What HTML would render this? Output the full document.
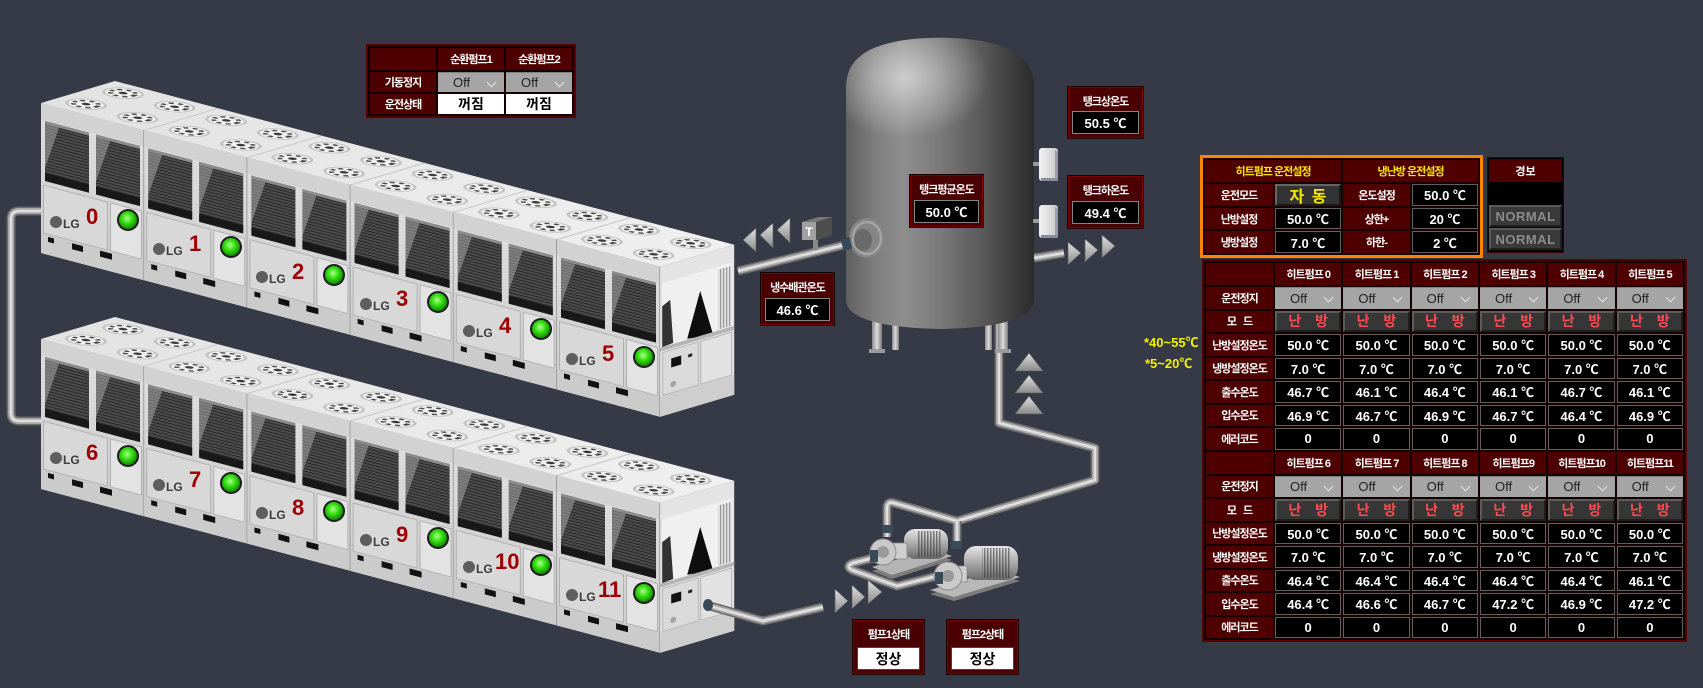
<!DOCTYPE html>
<html><head><meta charset="utf-8"><title>HP</title>
<style>
*{margin:0;padding:0;box-sizing:border-box}
html,body{width:1703px;height:688px;overflow:hidden}
body{background:#363a47;position:relative;font-family:"Liberation Sans","Noto Sans CJK KR",sans-serif}
#s{position:absolute;left:0;top:0}
.bx{position:absolute;background:#4a0000;border:1px solid #7c0000;box-shadow:0 0 0 1px #1a0000}
.bx .t{position:absolute;left:0;right:0;top:1px;height:23px;display:flex;align-items:center;justify-content:center;color:#fff;font-weight:bold;font-size:11px;letter-spacing:-1px;white-space:nowrap}
.bx .v{position:absolute;left:3px;right:3px;bottom:3px;height:23px;display:flex;align-items:center;justify-content:center;background:#000;border:1px solid #858585;color:#fff;font-weight:bold;font-size:13px;white-space:nowrap}
.bx .v.wt{background:#fff;border-color:#444;color:#000;font-size:14px}
.tb{position:absolute;background:#140000;border:2px solid #560000;padding:2px}
.g{display:grid;gap:2px}
.g>div{display:flex;align-items:center;justify-content:center;color:#fff;font-weight:bold;font-size:11px;white-space:nowrap;overflow:hidden}
.h{background:#4e0000;letter-spacing:-1px}
.g>.y{color:#ffea00}
.g>.v{background:#000;border:1px solid #606060;font-size:13px}
.g>.w{background:#fff;color:#000;font-size:14px}
.g>.dd{background:#a5a5a5;color:#222;font-weight:normal;font-size:13px;position:relative;justify-content:flex-start;padding-left:15px;border-top:1px solid #808080}
.dd:after{content:"";position:absolute;right:9px;top:6px;width:6px;height:6px;border-right:1.5px solid #e4e4e4;border-bottom:1.5px solid #e4e4e4;transform:rotate(45deg)}
.g>.md{background:#363636;border:2px solid;border-color:#5c5c5c #1e1e1e #1e1e1e #5c5c5c;color:#ff4a52;font-size:14px;word-spacing:10px}
.g>.ad{background:#333;border:2px solid;border-color:#666 #1a1a1a #1a1a1a #666;color:#f7e600;font-size:16px;word-spacing:3px}
.big{grid-template-columns:67px repeat(6,66.33px);grid-template-rows:22px repeat(7,21.5px)}
.nm{position:absolute;left:1px;right:1px;height:22px;background:#3a3a3a;border:2px solid;border-color:#5a5a5a #202020 #202020 #5a5a5a;color:#8c8c8c;font-weight:bold;font-size:13px;display:flex;align-items:center;justify-content:center;letter-spacing:0.5px}
.note{position:absolute;color:#f2f200;font-weight:bold;font-size:13px;line-height:14px;white-space:nowrap}
</style></head>
<body>
<svg id="s" width="1703" height="688" viewBox="0 0 1703 688" xmlns="http://www.w3.org/2000/svg" font-family="Liberation Sans, sans-serif">
<defs>
<linearGradient id="fg" x1="0" y1="0" x2="0" y2="1"><stop offset="0" stop-color="#dedede"/><stop offset="1" stop-color="#cccccc"/></linearGradient>
<linearGradient id="tg" x1="0" y1="0" x2="1" y2="0"><stop offset="0" stop-color="#e2e2e2"/><stop offset="1" stop-color="#f0f0f0"/></linearGradient>
<pattern id="lv" width="6" height="3" patternUnits="userSpaceOnUse"><rect width="6" height="3" fill="#4d4d4d"/><rect y="2" width="6" height="1" fill="#262626"/></pattern>
<pattern id="vg" width="3" height="4" patternUnits="userSpaceOnUse"><rect width="3" height="4" fill="#e0e0e0"/><rect width="1" height="4" fill="#8a8a8a"/></pattern>
<pattern id="rb" width="3" height="4" patternUnits="userSpaceOnUse"><rect width="1.5" height="4" fill="#333"/></pattern>
<radialGradient id="gl" cx="0.45" cy="0.4" r="0.6"><stop offset="0" stop-color="#aaff88"/><stop offset="0.5" stop-color="#33dd11"/><stop offset="1" stop-color="#128800"/></radialGradient>
<linearGradient id="tk" x1="0" x2="1"><stop offset="0" stop-color="#5f5f5f"/><stop offset="0.15" stop-color="#7d7d7d"/><stop offset="0.3" stop-color="#8e8e8e"/><stop offset="0.5" stop-color="#7a7a7a"/><stop offset="0.75" stop-color="#555"/><stop offset="0.9" stop-color="#3a3a3a"/><stop offset="1" stop-color="#2b2b2b"/></linearGradient>
<radialGradient id="hl" cx="0.5" cy="0.5" r="0.5"><stop offset="0" stop-color="#fff" stop-opacity="0.55"/><stop offset="1" stop-color="#fff" stop-opacity="0"/></radialGradient>
<linearGradient id="lgg" x1="0" x2="1"><stop offset="0" stop-color="#8a8a8a"/><stop offset=".5" stop-color="#dcdcdc"/><stop offset="1" stop-color="#7a7a7a"/></linearGradient>
<linearGradient id="ar" x1="0" y1="0" x2="0" y2="1"><stop offset="0" stop-color="#e0e0e0"/><stop offset="1" stop-color="#8a8a8a"/></linearGradient>
<linearGradient id="mt" x1="0" y1="0" x2="0" y2="1"><stop offset="0" stop-color="#e6e6e6"/><stop offset=".5" stop-color="#a8a8a8"/><stop offset="1" stop-color="#6a6a6a"/></linearGradient>
<linearGradient id="sn" x1="0" x2="1"><stop offset="0" stop-color="#f4f4f4"/><stop offset="1" stop-color="#c8c8c8"/></linearGradient>
<path id="tkp" d="M846,300 L846,88 C846,56 872,45 905,40 C925,37 955,37 975,40 C1008,45 1034,56 1034,88 L1034,300 C1034,318 1000,328 940,329 C880,328 846,318 846,300 Z"/>
<clipPath id="tc"><use href="#tkp"/></clipPath>
<path id="p1" d="M41,211 L19,211 Q11,211 11,219 L11,413 Q11,421 19,421 L41,421"/>
<path id="p2" d="M738,271 L848,244"/>
<path id="p3" d="M1034,258 L1064,253"/>
<path id="p4" d="M999,318 L999,423 L1095,448 L1095,480 L957,521"/>
<path id="p5" d="M957,521 L894,503 Q887,501 887,508 L887,537 M957,521 L957,548"/>
<path id="p6" d="M877,557 L853,563 Q845,566 852,570 L897,586 L941,575"/>
<path id="p7" d="M710,606 L763,621 L823,607"/>
<g id="fr">
<rect width="103.3" height="150" fill="url(#fg)"/>
<rect width="103.3" height="16" fill="#d2d2d2"/>
<rect x="4" y="17" width="44" height="59" fill="url(#lv)"/>
<rect x="4" y="17" width="44" height="3" fill="#8c8c8c"/>
<polygon points="4,20 18,20 4,64" fill="#b0b0b0" opacity=".5"/>
<rect x="4" y="69" width="44" height="8" fill="#181818"/>
<rect x="55" y="17" width="44" height="59" fill="url(#lv)"/>
<rect x="55" y="17" width="44" height="3" fill="#8c8c8c"/>
<polygon points="55,20 69,20 55,64" fill="#b0b0b0" opacity=".5"/>
<rect x="55" y="69" width="44" height="8" fill="#181818"/>
<rect x="2.5" y="81.5" width="64" height="48" fill="#d8d8d8" stroke="#b0b0b0"/>
<rect x="69.5" y="81.5" width="31" height="48" fill="#e3e3e3" stroke="#b0b0b0"/>
<rect y="130" width="103.3" height="20" fill="#cbcbcb"/>
<rect x="7" y="132" width="6" height="5" fill="#111"/>
<rect x="31" y="132" width="11" height="6" fill="#111"/>
<rect x="59" y="132" width="12" height="6" fill="#111"/>
<rect x="102.2" width="1.1" height="150" fill="#a0a0a0"/>
</g>
<g id="sd">
<rect width="74" height="150" fill="#e4e4e4"/>
<rect x="2" y="17" width="70" height="64" fill="#f0f0f0"/>
<polygon points="2,40 10,36 13,80 2,81" fill="#333"/>
<polygon points="40,36 27,80 53,84" fill="#0e0e0e"/>
<rect x="58" y="20" width="13" height="60" fill="url(#vg)"/>
<rect y="81" width="74" height="4" fill="#b5b5b5"/>
<rect x="2.5" y="86.5" width="36" height="43" fill="#dadada" stroke="#b3b3b3"/>
<rect x="40.5" y="86.5" width="31" height="43" fill="#e2e2e2" stroke="#b3b3b3"/>
<rect x="11" y="95" width="10" height="9" fill="#111"/>
<rect x="28" y="96" width="4" height="3" fill="#222"/>
<circle cx="13" cy="121" r="3" fill="#a5a5a5"/>
<rect y="130" width="74" height="20" fill="#cecece"/>
</g>
<g id="fn"><circle r="16.5" fill="#c4c4c4"/><circle r="14" fill="#f0f0f0"/><circle r="10" fill="none" stroke="#4a4a4a" stroke-width="4" stroke-dasharray="4 3.5"/><circle r="3.5" fill="#3a3a3a"/></g>
<g id="fans"><use href="#fn" transform="translate(25,26)"/><use href="#fn" transform="translate(75,26)"/><use href="#fn" transform="translate(25,76)"/><use href="#fn" transform="translate(75,76)"/></g>
</defs>

<g fill="none" stroke-linejoin="round">
<use href="#p1" stroke="#6a6a6a" stroke-width="9"/><use href="#p1" stroke="#a8a8a8" stroke-width="6"/><use href="#p1" stroke="#e0e0e0" stroke-width="2.5"/>
</g>

<polygon points="41,103 660.2,266.8 734.2,244.8 115,81" fill="url(#tg)"/>
<g stroke="#c6c6c6" stroke-width="1">
<line x1="144.2" y1="130.3" x2="218.2" y2="108.3"/><line x1="247.4" y1="157.6" x2="321.4" y2="135.6"/><line x1="350.6" y1="184.9" x2="424.6" y2="162.9"/><line x1="453.8" y1="212.2" x2="527.8" y2="190.2"/><line x1="557" y1="239.5" x2="631" y2="217.5"/>
</g>
<use href="#fans" transform="matrix(1.032,0.273,0.74,-0.22,41,103)"/>
<use href="#fans" transform="matrix(1.032,0.273,0.74,-0.22,144.2,130.3)"/>
<use href="#fans" transform="matrix(1.032,0.273,0.74,-0.22,247.4,157.6)"/>
<use href="#fans" transform="matrix(1.032,0.273,0.74,-0.22,350.6,184.9)"/>
<use href="#fans" transform="matrix(1.032,0.273,0.74,-0.22,453.8,212.2)"/>
<use href="#fans" transform="matrix(1.032,0.273,0.74,-0.22,557,239.5)"/>
<use href="#fr" transform="matrix(1,0.2645,0,1,41,103)"/>
<use href="#fr" transform="matrix(1,0.2645,0,1,144.2,130.3)"/>
<use href="#fr" transform="matrix(1,0.2645,0,1,247.4,157.6)"/>
<use href="#fr" transform="matrix(1,0.2645,0,1,350.6,184.9)"/>
<use href="#fr" transform="matrix(1,0.2645,0,1,453.8,212.2)"/>
<use href="#fr" transform="matrix(1,0.2645,0,1,557,239.5)"/>
<use href="#sd" transform="matrix(1,-0.2973,0,1,660.2,266.8)"/>

<polygon points="41,339 660.2,502.8 734.2,480.8 115,317" fill="url(#tg)"/>
<g stroke="#c6c6c6" stroke-width="1">
<line x1="144.2" y1="366.3" x2="218.2" y2="344.3"/><line x1="247.4" y1="393.6" x2="321.4" y2="371.6"/><line x1="350.6" y1="420.9" x2="424.6" y2="398.9"/><line x1="453.8" y1="448.2" x2="527.8" y2="426.2"/><line x1="557" y1="475.5" x2="631" y2="453.5"/>
</g>
<use href="#fans" transform="matrix(1.032,0.273,0.74,-0.22,41,339)"/>
<use href="#fans" transform="matrix(1.032,0.273,0.74,-0.22,144.2,366.3)"/>
<use href="#fans" transform="matrix(1.032,0.273,0.74,-0.22,247.4,393.6)"/>
<use href="#fans" transform="matrix(1.032,0.273,0.74,-0.22,350.6,420.9)"/>
<use href="#fans" transform="matrix(1.032,0.273,0.74,-0.22,453.8,448.2)"/>
<use href="#fans" transform="matrix(1.032,0.273,0.74,-0.22,557,475.5)"/>
<use href="#fr" transform="matrix(1,0.2645,0,1,41,339)"/>
<use href="#fr" transform="matrix(1,0.2645,0,1,144.2,366.3)"/>
<use href="#fr" transform="matrix(1,0.2645,0,1,247.4,393.6)"/>
<use href="#fr" transform="matrix(1,0.2645,0,1,350.6,420.9)"/>
<use href="#fr" transform="matrix(1,0.2645,0,1,453.8,448.2)"/>
<use href="#fr" transform="matrix(1,0.2645,0,1,557,475.5)"/>
<use href="#sd" transform="matrix(1,-0.2973,0,1,660.2,502.8)"/>

<g fill="#1c1c1c">
<circle cx="128" cy="220" r="11"/><circle cx="231" cy="247" r="11"/><circle cx="334" cy="275" r="11"/><circle cx="438" cy="302" r="11"/><circle cx="541" cy="329" r="11"/><circle cx="644" cy="357" r="11"/>
<circle cx="128" cy="456" r="11"/><circle cx="231" cy="483" r="11"/><circle cx="334" cy="511" r="11"/><circle cx="438" cy="538" r="11"/><circle cx="541" cy="565" r="11"/><circle cx="644" cy="593" r="11"/>
</g>
<g fill="url(#gl)">
<circle cx="128" cy="220" r="9"/><circle cx="231" cy="247" r="9"/><circle cx="334" cy="275" r="9"/><circle cx="438" cy="302" r="9"/><circle cx="541" cy="329" r="9"/><circle cx="644" cy="357" r="9"/>
<circle cx="128" cy="456" r="9"/><circle cx="231" cy="483" r="9"/><circle cx="334" cy="511" r="9"/><circle cx="438" cy="538" r="9"/><circle cx="541" cy="565" r="9"/><circle cx="644" cy="593" r="9"/>
</g>
<g fill="#5e5e5e">
<circle cx="56" cy="222" r="6"/><circle cx="159" cy="249" r="6"/><circle cx="262" cy="277" r="6"/><circle cx="366" cy="304" r="6"/><circle cx="469" cy="331" r="6"/><circle cx="572" cy="359" r="6"/>
<circle cx="56" cy="458" r="6"/><circle cx="159" cy="485" r="6"/><circle cx="262" cy="513" r="6"/><circle cx="366" cy="540" r="6"/><circle cx="469" cy="567" r="6"/><circle cx="572" cy="595" r="6"/>
</g>
<g fill="#3c3c3c" font-size="12" font-weight="bold">
<text x="63" y="228">LG</text><text x="166" y="255">LG</text><text x="269" y="283">LG</text><text x="373" y="310">LG</text><text x="476" y="337">LG</text><text x="579" y="365">LG</text>
<text x="63" y="464">LG</text><text x="166" y="491">LG</text><text x="269" y="519">LG</text><text x="373" y="546">LG</text><text x="476" y="573">LG</text><text x="579" y="601">LG</text>
</g>
<g fill="#9c0000" font-size="22" font-weight="bold">
<text x="86" y="224">0</text><text x="189" y="251">1</text><text x="292" y="279">2</text><text x="396" y="306">3</text><text x="499" y="333">4</text><text x="602" y="361">5</text>
<text x="86" y="460">6</text><text x="189" y="487">7</text><text x="292" y="515">8</text><text x="396" y="542">9</text><text x="495" y="569">10</text><text x="598" y="597">11</text>
</g>

<g fill="none" stroke-linejoin="round">
<use href="#p2" stroke="#6a6a6a" stroke-width="9"/><use href="#p2" stroke="#a8a8a8" stroke-width="6"/><use href="#p2" stroke="#e0e0e0" stroke-width="2.5"/>
<use href="#p3" stroke="#6a6a6a" stroke-width="9"/><use href="#p3" stroke="#a8a8a8" stroke-width="6"/><use href="#p3" stroke="#e0e0e0" stroke-width="2.5"/>
<use href="#p4" stroke="#6a6a6a" stroke-width="9"/><use href="#p4" stroke="#a8a8a8" stroke-width="6"/><use href="#p4" stroke="#e0e0e0" stroke-width="2.5"/>
<use href="#p5" stroke="#6a6a6a" stroke-width="9"/><use href="#p5" stroke="#a8a8a8" stroke-width="6"/><use href="#p5" stroke="#e0e0e0" stroke-width="2.5"/>
<use href="#p6" stroke="#6a6a6a" stroke-width="9"/><use href="#p6" stroke="#a8a8a8" stroke-width="6"/><use href="#p6" stroke="#e0e0e0" stroke-width="2.5"/>
<use href="#p7" stroke="#6a6a6a" stroke-width="9"/><use href="#p7" stroke="#a8a8a8" stroke-width="6"/><use href="#p7" stroke="#e0e0e0" stroke-width="2.5"/>
</g>
<ellipse cx="708" cy="605" rx="5" ry="6" fill="#3a4b58"/>

<rect x="872" y="312" width="10" height="40" fill="url(#lgg)"/>
<rect x="892" y="320" width="7" height="30" fill="url(#lgg)"/>
<rect x="985" y="320" width="7" height="30" fill="url(#lgg)"/>
<rect x="998" y="312" width="10" height="40" fill="url(#lgg)"/>
<rect x="869" y="349" width="16" height="4" fill="#9a9a9a"/>
<rect x="995" y="349" width="16" height="4" fill="#9a9a9a"/>
<use href="#tkp" fill="url(#tk)"/>
<ellipse cx="905" cy="78" rx="85" ry="60" fill="url(#hl)" clip-path="url(#tc)"/>
<ellipse cx="867" cy="238" rx="18" ry="20" fill="#858585"/>
<ellipse cx="867" cy="238" rx="14" ry="16" fill="none" stroke="#a4a4a4" stroke-width="2.5"/>
<ellipse cx="863" cy="240" rx="9" ry="11" fill="#6a6a6a"/>
<rect x="842" y="238" width="9" height="12" fill="#35485a" transform="rotate(-14 846 244)"/>
<rect x="813" y="238" width="5" height="12" fill="#888"/>
<path d="M802,222 L816,222 L816,240 L802,240 Z" fill="#a0a0a0"/>
<path d="M816,222 L832,217 L832,236 L816,240 Z" fill="#4e4e4e"/>
<path d="M802,222 L818,217 L832,217 L816,222 Z" fill="#777"/>
<text x="809" y="236" font-size="12" font-weight="bold" fill="#fff" text-anchor="middle">T</text>
<rect x="1033" y="162" width="7" height="4" fill="#9a9a9a"/>
<rect x="1039" y="148" width="19" height="33" rx="3" fill="url(#sn)"/>
<polygon points="1055,150 1058,152 1058,181 1055,181" fill="#9a9aaa"/>
<rect x="1041" y="178" width="17" height="3" fill="#8a8aa0"/>
<rect x="1033" y="219" width="7" height="4" fill="#9a9a9a"/>
<rect x="1039" y="205" width="19" height="33" rx="3" fill="url(#sn)"/>
<polygon points="1055,207 1058,209 1058,238 1055,238" fill="#9a9aaa"/>
<rect x="1041" y="235" width="17" height="3" fill="#8a8aa0"/>

<g fill="url(#ar)" stroke="#5a5a5a" stroke-width="0.6">
<polygon points="743,240 756,228 756,252"/><polygon points="760,235 773,223 773,248"/><polygon points="777,230 790,218 790,243"/>
<polygon points="1068,242 1068,265 1081,253"/><polygon points="1085,239 1085,262 1098,250"/><polygon points="1102,235 1102,258 1115,246"/>
<polygon points="1015,371 1043,371 1029,353"/><polygon points="1015,393 1043,393 1029,375"/><polygon points="1015,414 1043,414 1029,396"/>
<polygon points="835,589 835,613 848,601"/><polygon points="852,585 852,609 865,597"/><polygon points="868,580 868,604 882,592"/>
</g>

<polygon points="872,571 932,553 952,560 892,579" fill="#7c7c7c"/>
<polygon points="872,567 932,549 952,556 892,575" fill="#b4b4b4"/>
<rect x="904" y="529" width="44" height="30" rx="11" fill="url(#mt)"/>
<rect x="918" y="531" width="24" height="26" fill="url(#rb)" opacity=".55"/>
<rect x="893" y="543" width="14" height="16" fill="#cfcfcf" stroke="#888" stroke-width=".8"/>
<circle cx="883" cy="552" r="13" fill="#c9c9c9" stroke="#8a8a8a"/>
<circle cx="883" cy="552" r="6" fill="#9a9a9a"/>
<rect x="870" y="550" width="8" height="12" fill="#3a4b58"/>
<rect x="882" y="525" width="11" height="8" fill="#3a4b58"/>
<polygon points="930,594 996,574 1020,581 954,601" fill="#7c7c7c"/>
<polygon points="930,590 996,570 1020,577 954,597" fill="#b8b8b8"/>
<rect x="964" y="546" width="54" height="34" rx="12" fill="url(#mt)"/>
<rect x="982" y="548" width="28" height="30" fill="url(#rb)" opacity=".55"/>
<rect x="953" y="566" width="14" height="16" fill="#cfcfcf" stroke="#888" stroke-width=".8"/>
<circle cx="948" cy="576" r="14" fill="#cacaca" stroke="#8a8a8a"/>
<circle cx="948" cy="576" r="6" fill="#9a9a9a"/>
<rect x="935" y="572" width="8" height="12" fill="#3a4b58"/>
<rect x="951" y="541" width="11" height="8" fill="#3a4b58"/>
</svg>

<div class="tb" style="left:366px;top:44px;width:210px;height:74px">
<div class="g" style="grid-template-columns:66px 66px 66px;grid-template-rows:22px 20px 20px">
<div class="h"></div><div class="h">순환펌프1</div><div class="h">순환펌프2</div>
<div class="h">기동정지</div><div class="dd">Off</div><div class="dd">Off</div>
<div class="h">운전상태</div><div class="w">꺼짐</div><div class="w">꺼짐</div>
</div></div>

<div class="bx" style="left:910px;top:175px;width:73px;height:52px"><div class="t">탱크평균온도</div><div class="v">50.0 ℃</div></div>
<div class="bx" style="left:761px;top:273px;width:73px;height:52px"><div class="t">냉수배관온도</div><div class="v">46.6 ℃</div></div>
<div class="bx" style="left:1068px;top:87px;width:75px;height:51px"><div class="t">탱크상온도</div><div class="v">50.5 ℃</div></div>
<div class="bx" style="left:1068px;top:176px;width:75px;height:52px"><div class="t">탱크하온도</div><div class="v">49.4 ℃</div></div>
<div class="bx" style="left:853px;top:620px;width:71px;height:54px"><div class="t">펌프1상태</div><div class="v wt">정상</div></div>
<div class="bx" style="left:947px;top:620px;width:71px;height:54px"><div class="t">펌프2상태</div><div class="v wt">정상</div></div>

<div class="tb" style="left:1200px;top:155px;width:283px;height:103px;border:3px solid #ff8200;background:#1a0000">
<div class="g" style="grid-template-columns:68px 66px 67px 66px;grid-template-rows:22px 21.7px 21.7px 21.6px">
<div class="h y" style="grid-column:span 2">히트펌프 운전설정</div><div class="h y" style="grid-column:span 2">냉난방 운전설정</div>
<div class="h">운전모드</div><div class="ad">자 동</div><div class="h">온도설정</div><div class="v">50.0 ℃</div>
<div class="h">난방설정</div><div class="v">50.0 ℃</div><div class="h">상한+</div><div class="v">20 ℃</div>
<div class="h">냉방설정</div><div class="v">7.0 ℃</div><div class="h">하한-</div><div class="v">2 ℃</div>
</div></div>

<div style="position:absolute;left:1487px;top:157px;width:77px;height:96px;background:#000;border:1px solid #3a0000">
<div style="position:absolute;left:1px;right:1px;top:1px;height:23px;background:#4e0000;color:#fff;font-weight:bold;font-size:11px;display:flex;align-items:center;justify-content:center">경보</div>
<div class="nm" style="top:47px">NORMAL</div><div class="nm" style="top:70px">NORMAL</div>
</div>

<div class="note" style="left:1144px;top:336px">*40~55℃</div>
<div class="note" style="left:1145px;top:357px">*5~20℃</div>

<div class="tb" style="left:1202px;top:259px;width:485px;height:383px">
<div class="g big">
<div class="h"></div><div class="h">히트펌프 0</div><div class="h">히트펌프 1</div><div class="h">히트펌프 2</div><div class="h">히트펌프 3</div><div class="h">히트펌프 4</div><div class="h">히트펌프 5</div>
<div class="h">운전정지</div><div class="dd">Off</div><div class="dd">Off</div><div class="dd">Off</div><div class="dd">Off</div><div class="dd">Off</div><div class="dd">Off</div>
<div class="h" style="word-spacing:5px">모 드</div><div class="md">난 방</div><div class="md">난 방</div><div class="md">난 방</div><div class="md">난 방</div><div class="md">난 방</div><div class="md">난 방</div>
<div class="h">난방설정온도</div><div class="v">50.0 ℃</div><div class="v">50.0 ℃</div><div class="v">50.0 ℃</div><div class="v">50.0 ℃</div><div class="v">50.0 ℃</div><div class="v">50.0 ℃</div>
<div class="h">냉방설정온도</div><div class="v">7.0 ℃</div><div class="v">7.0 ℃</div><div class="v">7.0 ℃</div><div class="v">7.0 ℃</div><div class="v">7.0 ℃</div><div class="v">7.0 ℃</div>
<div class="h">출수온도</div><div class="v">46.7 ℃</div><div class="v">46.1 ℃</div><div class="v">46.4 ℃</div><div class="v">46.1 ℃</div><div class="v">46.7 ℃</div><div class="v">46.1 ℃</div>
<div class="h">입수온도</div><div class="v">46.9 ℃</div><div class="v">46.7 ℃</div><div class="v">46.9 ℃</div><div class="v">46.7 ℃</div><div class="v">46.4 ℃</div><div class="v">46.9 ℃</div>
<div class="h">에러코드</div><div class="v">0</div><div class="v">0</div><div class="v">0</div><div class="v">0</div><div class="v">0</div><div class="v">0</div>
</div>
<div class="g big" style="margin-top:2px">
<div class="h"></div><div class="h">히트펌프 6</div><div class="h">히트펌프 7</div><div class="h">히트펌프 8</div><div class="h">히트펌프9</div><div class="h">히트펌프10</div><div class="h">히트펌프11</div>
<div class="h">운전정지</div><div class="dd">Off</div><div class="dd">Off</div><div class="dd">Off</div><div class="dd">Off</div><div class="dd">Off</div><div class="dd">Off</div>
<div class="h" style="word-spacing:5px">모 드</div><div class="md">난 방</div><div class="md">난 방</div><div class="md">난 방</div><div class="md">난 방</div><div class="md">난 방</div><div class="md">난 방</div>
<div class="h">난방설정온도</div><div class="v">50.0 ℃</div><div class="v">50.0 ℃</div><div class="v">50.0 ℃</div><div class="v">50.0 ℃</div><div class="v">50.0 ℃</div><div class="v">50.0 ℃</div>
<div class="h">냉방설정온도</div><div class="v">7.0 ℃</div><div class="v">7.0 ℃</div><div class="v">7.0 ℃</div><div class="v">7.0 ℃</div><div class="v">7.0 ℃</div><div class="v">7.0 ℃</div>
<div class="h">출수온도</div><div class="v">46.4 ℃</div><div class="v">46.4 ℃</div><div class="v">46.4 ℃</div><div class="v">46.4 ℃</div><div class="v">46.4 ℃</div><div class="v">46.1 ℃</div>
<div class="h">입수온도</div><div class="v">46.4 ℃</div><div class="v">46.6 ℃</div><div class="v">46.7 ℃</div><div class="v">47.2 ℃</div><div class="v">46.9 ℃</div><div class="v">47.2 ℃</div>
<div class="h">에러코드</div><div class="v">0</div><div class="v">0</div><div class="v">0</div><div class="v">0</div><div class="v">0</div><div class="v">0</div>
</div>
</div>
</body></html>
